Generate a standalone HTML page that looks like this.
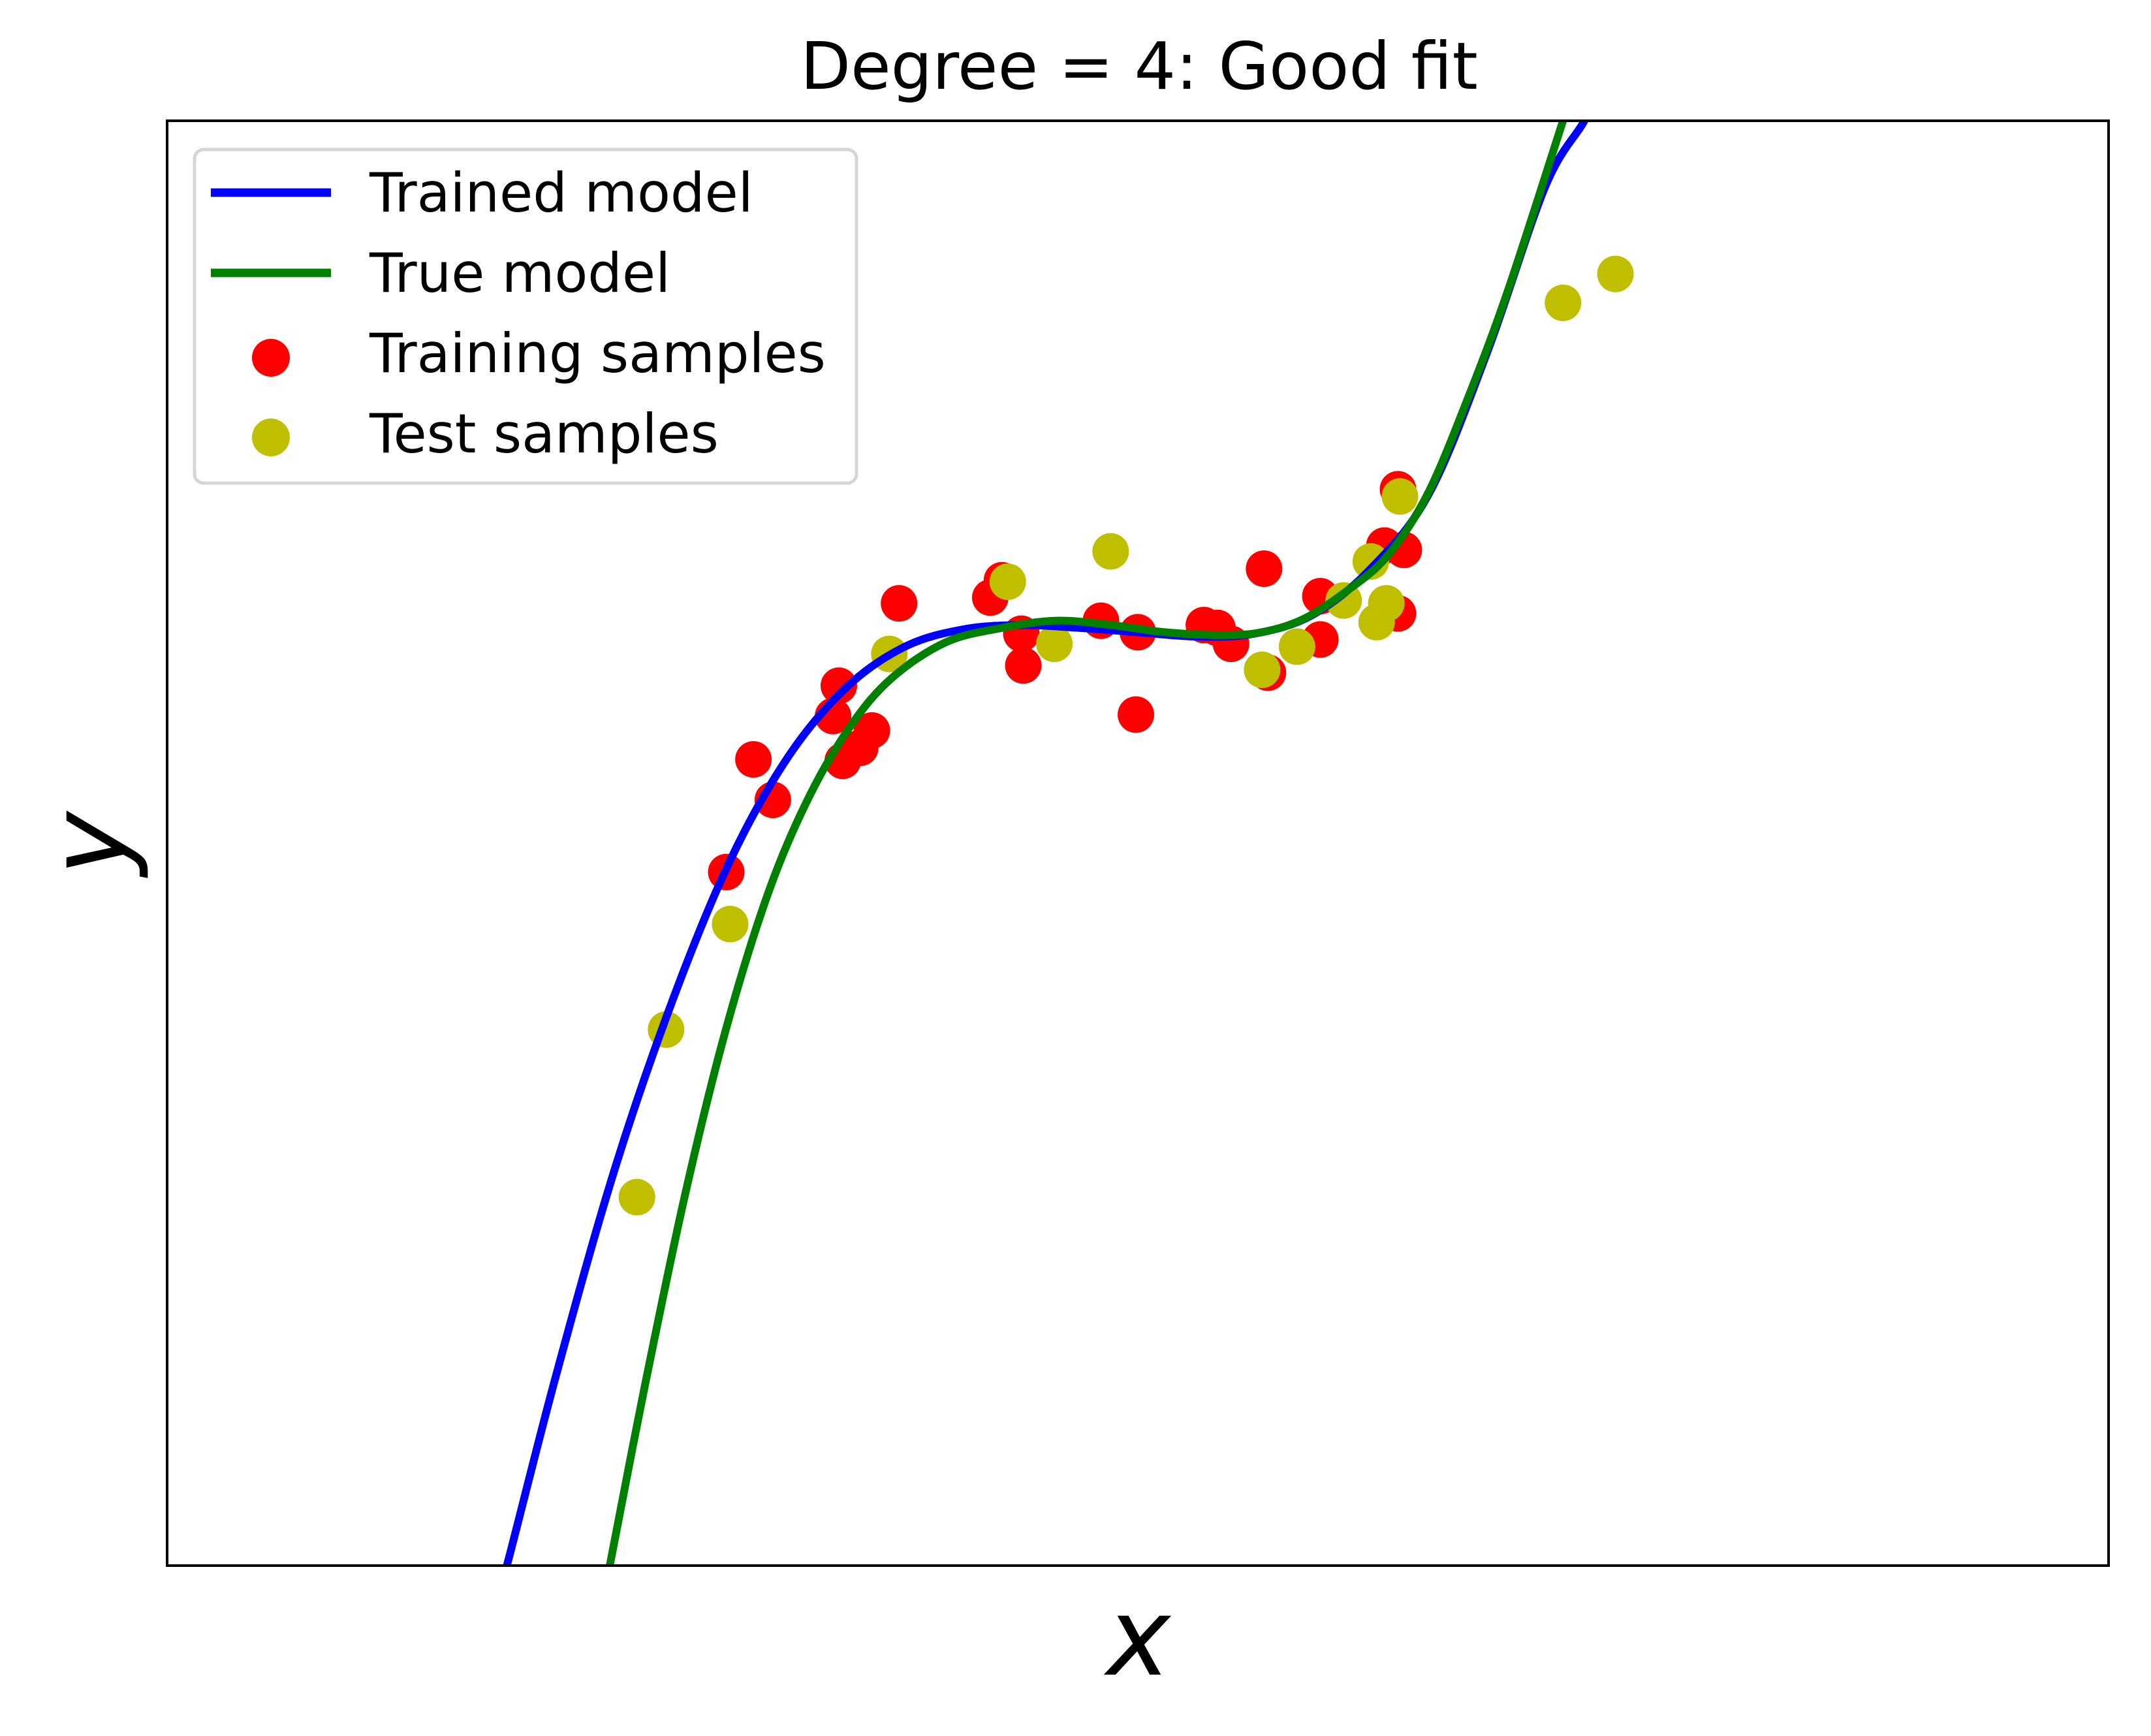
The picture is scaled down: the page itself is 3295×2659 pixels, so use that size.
<!DOCTYPE html>
<html><head><meta charset="utf-8"><style>
html,body{margin:0;padding:0;background:#fff;}
svg{display:block;font-family:"DejaVu Sans","Liberation Sans",sans-serif;}
</style></head><body>
<svg id="chart" width="3295" height="2659" viewBox="0 0 3295 2659" xmlns="http://www.w3.org/2000/svg">
<rect width="3295" height="2659" fill="#fff"/>
<text x="1745" y="136" font-size="100" text-anchor="middle" fill="#000">Degree = 4: Good fit</text>
<defs><clipPath id="plotclip"><rect x="256" y="185" width="2974" height="2213"/></clipPath></defs>
<g id="plot" clip-path="url(#plotclip)"></g>
<rect x="256" y="185" width="2974" height="2213" fill="none" stroke="#000" stroke-width="4"/>
<text x="1744" y="2565" font-size="165" font-style="italic" text-anchor="middle">x</text>
<text transform="translate(192,1292) rotate(-90)" font-size="165" font-style="italic" text-anchor="middle">y</text>
<g>
<rect x="298" y="229" width="1014" height="511" rx="14" fill="#fff" fill-opacity="0.8" stroke="#d5d5d5" stroke-width="5"/>
<line x1="323" y1="295" x2="507" y2="295" stroke="#0000ff" stroke-width="13"/>
<text x="566" y="324" font-size="83">Trained model</text>
<line x1="323" y1="418" x2="507" y2="418" stroke="#008000" stroke-width="13"/>
<text x="566" y="447" font-size="83">True model</text>
<circle cx="415" cy="548" r="29" fill="#ff0000"/>
<text x="566" y="570" font-size="83">Training samples</text>
<circle cx="415" cy="670" r="29" fill="#bfbf00"/>
<text x="566" y="693" font-size="83">Test samples</text>
</g>
</svg>
<script>
const trainX=[2.88,3.02,3.12,3.46,3.43,3.48,3.57,3.63,3.77,4.24,4.30,4.40,4.41,4.81,5.00,4.99,5.34,5.41,5.48,5.65,5.67,5.94,5.94,6.27,6.37,6.34,6.34];
const trainY=[4.80,5.58,5.30,6.09,5.88,5.57,5.66,5.78,6.66,6.70,6.82,6.45,6.23,6.54,6.46,5.89,6.51,6.49,6.38,6.90,6.18,6.71,6.41,7.06,7.03,6.59,7.45];
const testX=[2.42,2.57,2.90,3.72,4.33,4.57,4.86,5.64,5.82,6.06,6.20,6.23,6.28,6.35,7.19,7.46];
const testY=[2.55,3.71,4.44,6.31,6.81,6.38,7.02,6.20,6.36,6.68,6.95,6.53,6.66,7.40,8.74,8.94];
const trainedX=[1.70,1.75,2.00,2.30,2.60,2.90,3.20,3.50,3.80,4.10,4.40,4.70,5.00,5.30,5.60,5.90,6.20,6.50,6.80,7.10,7.30,7.35];
const trainedY=[-0.2,0,1.30,2.72,3.90,4.88,5.60,6.08,6.36,6.48,6.51,6.49,6.46,6.43,6.45,6.58,6.90,7.42,8.40,9.55,10.0,10.2];
const trueX=[2.25,2.28,2.46,2.67,2.88,3.10,3.31,3.52,3.73,4.01,4.30,4.58,4.86,5.14,5.43,5.64,5.85,6.06,6.28,6.49,6.70,6.91,7.19,7.24];
const trueY=[-0.2,0,1.24,2.58,3.72,4.67,5.33,5.81,6.14,6.39,6.49,6.54,6.51,6.46,6.44,6.46,6.55,6.73,6.98,7.41,8.08,8.84,10.0,10.2];

const X0=256,X1=3230,Y0=2398,Y1=185;
function sx(v){return X0+(v/10)*(X1-X0);}
function sy(v){return Y0-(v/10)*(Y0-Y1);}
const NS='http://www.w3.org/2000/svg';
const plot=document.getElementById('plot');
function curve(xs,ys){
  const p=xs.map((x,i)=>[sx(x),sy(ys[i])]);
  let d='M'+p[0][0]+','+p[0][1];
  for(let i=0;i<p.length-1;i++){
    const a=p[i-1]||p[i],b=p[i],c=p[i+1],e=p[i+2]||c;
    const c1=[b[0]+(c[0]-a[0])/6,b[1]+(c[1]-a[1])/6];
    const c2=[c[0]-(e[0]-b[0])/6,c[1]-(e[1]-b[1])/6];
    d+='C'+c1[0]+','+c1[1]+' '+c2[0]+','+c2[1]+' '+c[0]+','+c[1];
  }
  return d;
}
function addPoints(xs,ys,color,name){
  xs.forEach((x,i)=>{
    const c=document.createElementNS(NS,'circle');
    c.setAttribute('cx',sx(x));c.setAttribute('cy',sy(ys[i]));c.setAttribute('r',28);c.setAttribute('fill',color);
    
    
    plot.appendChild(c);
  });
}
function addLine(xs,ys,color,name){
  const p=document.createElementNS(NS,'path');
  p.setAttribute('d',curve(xs,ys));p.setAttribute('fill','none');p.setAttribute('stroke',color);p.setAttribute('stroke-width',12);
  
  
  plot.appendChild(p);
}
addPoints(trainX,trainY,'#ff0000','training-sample');
addPoints(testX,testY,'#bfbf00','test-sample');
addLine(trainedX,trainedY,'#0000ff','trained-model-line');
addLine(trueX,trueY,'#008000','true-model-line');
</script>
</body></html>
